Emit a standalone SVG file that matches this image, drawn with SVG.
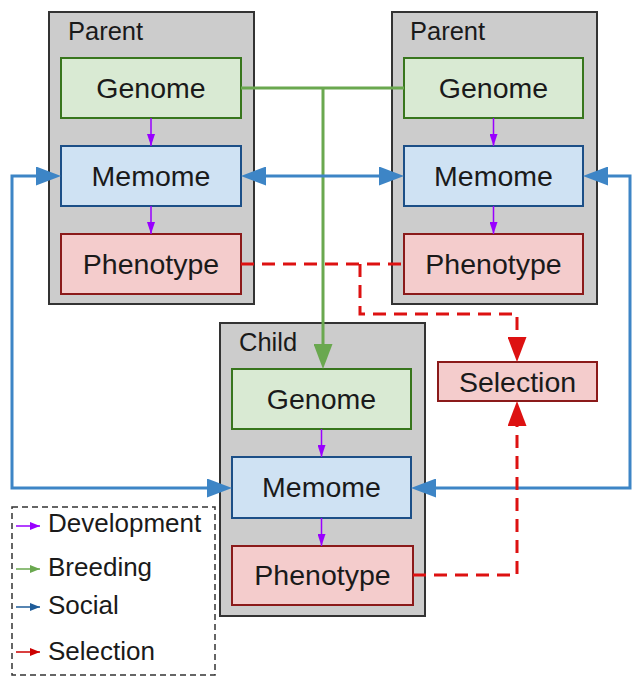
<svg xmlns="http://www.w3.org/2000/svg" width="632" height="677" viewBox="0 0 632 677">
<style>
text{font-family:"Liberation Sans",Arial,sans-serif;fill:#1a1a1a}
.grp{fill:#cccccc;stroke:#333;stroke-width:2}
.gen{fill:#d9ead3;stroke:#38761d;stroke-width:2}
.mem{fill:#cfe2f3;stroke:#1c4f87;stroke-width:2}
.phe{fill:#f4cccc;stroke:#8b1a1a;stroke-width:2}
.lbl{font-size:28.5px;text-anchor:middle}
.title{font-size:25.5px}
.leg{font-size:26px}
.dev{stroke:#9900ff;stroke-width:1.5;fill:none}
.brd{stroke:#6aa84f;stroke-width:3;fill:none}
.soc{stroke:#3d85c6;stroke-width:3;fill:none}
.sel{stroke:#dd1111;stroke-width:3;fill:none;stroke-dasharray:13 8}
.lg{stroke-width:1.5;fill:none}
</style>
<defs>
<marker id="aB" viewBox="0 0 25 19" refX="17" refY="9.5" markerWidth="25" markerHeight="19" markerUnits="userSpaceOnUse" orient="auto-start-reverse"><path d="M0,0L25,9.5L0,19z" fill="#3d85c6"/></marker>
<marker id="aG" viewBox="0 0 25 19" refX="17" refY="9.5" markerWidth="25" markerHeight="19" markerUnits="userSpaceOnUse" orient="auto"><path d="M0,0L25,9.5L0,19z" fill="#6aa84f"/></marker>
<marker id="aR" viewBox="0 0 25 19" refX="17" refY="9.5" markerWidth="25" markerHeight="19" markerUnits="userSpaceOnUse" orient="auto"><path d="M0,0L25,9.5L0,19z" fill="#dd1111"/></marker>
<marker id="aP" viewBox="0 0 12 8" refX="12" refY="4" markerWidth="12" markerHeight="8" markerUnits="userSpaceOnUse" orient="auto"><path d="M0,0L12,4L0,8z" fill="#9900ff"/></marker>
<marker id="lP" viewBox="0 0 10 8" refX="10" refY="4" markerWidth="10" markerHeight="8" markerUnits="userSpaceOnUse" orient="auto"><path d="M0,0L10,4L0,8z" fill="#9900ff"/></marker>
<marker id="lG" viewBox="0 0 10 8" refX="10" refY="4" markerWidth="10" markerHeight="8" markerUnits="userSpaceOnUse" orient="auto"><path d="M0,0L10,4L0,8z" fill="#6aa84f"/></marker>
<marker id="lB" viewBox="0 0 10 8" refX="10" refY="4" markerWidth="10" markerHeight="8" markerUnits="userSpaceOnUse" orient="auto"><path d="M0,0L10,4L0,8z" fill="#1f5c99"/></marker>
<marker id="lR" viewBox="0 0 10 8" refX="10" refY="4" markerWidth="10" markerHeight="8" markerUnits="userSpaceOnUse" orient="auto"><path d="M0,0L10,4L0,8z" fill="#cc0000"/></marker>
</defs>

<g id="parent-left">
<rect class="grp" x="49" y="12" width="205" height="292"/>
<text class="title" x="68" y="40">Parent</text>
<g id="pl-genome"><rect class="gen" x="61" y="58" width="180" height="60"/><text class="lbl" x="151" y="98">Genome</text></g>
<g id="pl-memome"><rect class="mem" x="61" y="146" width="180" height="60"/><text class="lbl" x="151" y="186">Memome</text></g>
<g id="pl-phenotype"><rect class="phe" x="61" y="234" width="180" height="60"/><text class="lbl" x="151" y="274">Phenotype</text></g>
</g>

<g id="parent-right">
<rect class="grp" x="392" y="12" width="205" height="292"/>
<text class="title" x="410" y="40">Parent</text>
<g id="pr-genome"><rect class="gen" x="404" y="58" width="179" height="60"/><text class="lbl" x="493.5" y="98">Genome</text></g>
<g id="pr-memome"><rect class="mem" x="404" y="146" width="179" height="60"/><text class="lbl" x="493.5" y="186">Memome</text></g>
<g id="pr-phenotype"><rect class="phe" x="404" y="234" width="179" height="60"/><text class="lbl" x="493.5" y="274">Phenotype</text></g>
</g>

<g id="child">
<rect class="grp" x="220" y="323" width="205" height="293"/>
<text class="title" x="239" y="351">Child</text>
<g id="c-genome"><rect class="gen" x="232" y="369" width="179" height="60"/><text class="lbl" x="321.5" y="409">Genome</text></g>
<g id="c-memome"><rect class="mem" x="232" y="457" width="179" height="61"/><text class="lbl" x="321.5" y="497">Memome</text></g>
<g id="c-phenotype"><rect class="phe" x="232" y="546" width="181" height="59"/><text class="lbl" x="322.5" y="585">Phenotype</text></g>
</g>

<g id="selection">
<rect class="phe" x="438" y="362" width="159" height="39"/>
<text class="lbl" x="517.5" y="392">Selection</text>
</g>

<g id="connectors">
<path class="dev" d="M151,118V146" marker-end="url(#aP)"/>
<path class="dev" d="M151,206V234" marker-end="url(#aP)"/>
<path class="dev" d="M493.5,118V146" marker-end="url(#aP)"/>
<path class="dev" d="M493.5,206V234" marker-end="url(#aP)"/>
<path class="dev" d="M321.5,429V457" marker-end="url(#aP)"/>
<path class="dev" d="M321.5,518V546" marker-end="url(#aP)"/>

<path class="brd" d="M241,88H404"/>
<path class="brd" d="M323,88V361" marker-end="url(#aG)"/>

<path class="soc" d="M53,176H12V488H224" marker-start="url(#aB)" marker-end="url(#aB)"/>
<path class="soc" d="M249,176H396" marker-start="url(#aB)" marker-end="url(#aB)"/>
<path class="soc" d="M591,176H630V488H419" marker-start="url(#aB)" marker-end="url(#aB)"/>

<path class="sel" d="M241,264H404"/>
<path class="sel" d="M360,264V314H517V354" marker-end="url(#aR)"/>
<path class="sel" d="M413,575H517V409" marker-end="url(#aR)"/>
</g>

<g id="legend">
<rect x="12" y="507" width="203" height="168" fill="none" stroke="#333" stroke-width="1.5" stroke-dasharray="6 4"/>
<path class="lg" stroke="#9900ff" d="M16,526H40" marker-end="url(#lP)"/>
<text class="leg" x="48" y="532">Development</text>
<path class="lg" stroke="#6aa84f" d="M16,569H40" marker-end="url(#lG)"/>
<text class="leg" x="48" y="576">Breeding</text>
<path class="lg" stroke="#1f5c99" d="M16,607H40" marker-end="url(#lB)"/>
<text class="leg" x="48" y="614">Social</text>
<path class="lg" stroke="#cc0000" d="M16,652H40" marker-end="url(#lR)"/>
<text class="leg" x="48" y="660">Selection</text>
</g>
</svg>
